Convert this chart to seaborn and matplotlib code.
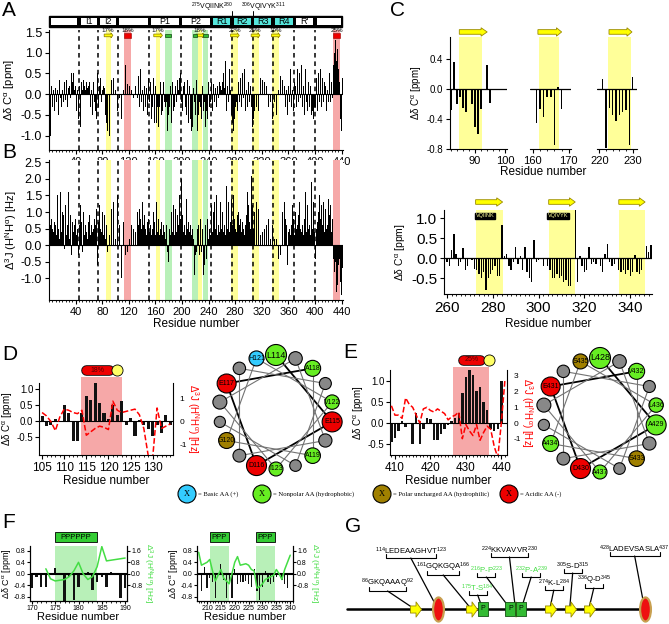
import numpy as np
import matplotlib
matplotlib.use("Agg")
import matplotlib.pyplot as plt
import matplotlib.patches as mpatches
import matplotlib.transforms as mtransforms
from matplotlib.path import Path
from matplotlib.ticker import MultipleLocator
import seaborn as sns

sns.set_style("ticks")
plt.rcParams["font.family"] = ["Liberation Sans", "DejaVu Sans"]
plt.rcParams.update({"mathtext.default": "regular", "axes.edgecolor": "black",
                     "xtick.color": "black", "ytick.color": "black", "text.color": "black",
                     "axes.labelcolor": "black", "axes.linewidth": 0.8,
                     "xtick.major.size": 3, "ytick.major.size": 3,
                     "xtick.minor.size": 1.5, "ytick.minor.size": 1.5})

# ---------------- data ----------------
# panel A: delta-delta C-alpha per residue (1..441)
dc_ppm = [
    -0.9, -1.0, -0.6, 0.2, -0.3, 0.3, 0.1, -0.4, 0.25, 0.15, -0.2, 0.3, 0.1, -0.5, 0.2, 0.35, -0.1, 0.2, -0.3, 0.1,
    0.25, -0.2, 0.3, 0.1, -0.15, 0.35, 0.2, -0.3, 0.15, 0.4, 0.2, -0.1, 0.45, 0.5, 0.3, -0.2, 0.5, 0.1, -0.3, 0.2,
    -0.4, 0.3, 0.1, -0.6, -0.2, 0.2, -0.8, -0.5, 0.3, 0.1, -0.3, 0.35, 0.2, -0.2, 0.1, 0.3, -0.4, 0.15, 0.2, -0.1,
    0.3, -0.3, 0.2, 0.1, -0.5, 0.25, 0.3, -0.2, 0.1, -0.4, -0.6, 0.2, 0.5, -0.3, -0.7, 0.2, 0.4, 0.3, -0.2, 0.1,
    -0.3, 0.2, 0.15, -0.4, -0.5, -0.7, -0.3, -0.9, -0.6, -0.4, -1.0, -0.5, 0.2, 0.35, -0.2, 0.3, 0.4, -0.3, 0.25, 0.1,
    -0.2, 0.3, -0.4, 0.25, 0.5, -0.1, 0.3, 0.2, -0.6, -0.6, 0.3, 0.1, 0.25, 0.8, 0.7, 1.2, 0.6, 0.25, 0.1, 0.5,
    0.2, 0.65, -0.1, 0.1, -0.45, 0.05, -0.1, -0.15, -0.3, 0.2, -0.4, 0.2, -0.1, 0.3, 0.45, -0.3, 0.2, 0.6, -0.2, 0.3,
    0.1, -0.4, 0.5, 0.2, -0.3, 0.3, 0.15, -0.5, 0.2, 0.4, -0.2, 0.55, 0.3, -0.6, 0.2, -0.3, 0.4, -0.5, -0.7, 0.2,
    -0.5, -0.7, -0.3, -0.1, -0.8, -0.3, 0.1, 0.3, -0.5, 0.2, -0.4, 0.3, -0.6, -0.2, -0.3, -0.8, -0.2, -0.9, -0.1, -0.5,
    -0.3, -0.6, 0.2, -0.7, -0.2, 0.3, -0.4, 0.45, -0.3, 0.2, -0.5, -0.2, 0.35, -0.6, 0.1, 0.4, -0.3, 0.5, -0.2, 0.7,
    -0.4, 0.2, -0.6, 0.3, -0.3, 0.1, -0.5, 0.35, -0.2, -0.7, 0.2, -0.4, -0.6, -0.9, -0.3, -0.8, 0.15, -0.9, -0.2, -0.5,
    -0.6, 0.35, -0.9, -0.4, -0.5, -0.2, -0.7, -0.3, -0.6, -0.1, 0.2, -0.4, -0.5, -0.2, -0.8, 0.1, -0.4, -0.6, -0.2, 0.3,
    -0.3, 0.45, -0.2, 0.3, 0.1, -0.4, 0.25, 0.5, -0.2, 0.15, 0.35, -0.3, 0.2, 0.4, -0.1, 0.3, -0.35, 0.2, 0.1, -0.25,
    0.3, 0.5, -0.2, 0.15, 0.8, 0.3, -0.4, 0.2, 0.35, -0.2, 0.6, -0.3, 0.1, -0.5, -0.3, -0.7, -0.9, -0.4, -0.6, -0.3,
    -0.5, -0.2, -0.4, 0.1, 0.3, -0.2, 0.25, 0.4, -0.3, 0.2, 0.5, -0.1, 0.3, 0.6, -0.4, 0.2, 0.1, -0.3, 0.45, 0.3,
    -0.2, 0.5, 0.2, -0.3, -0.5, -0.8, -0.6, -0.9, -0.4, -0.7, -0.5, -0.3, -0.6, -0.2, -0.4, 0.3, -0.2, 0.4, 0.2, -0.3,
    0.35, 0.6, -0.2, 0.3, 0.5, -0.4, 0.2, 0.7, 0.3, -0.3, 0.8, 0.4, -0.2, -0.4, -0.3, -0.6, -0.4, -0.5, -0.2, -0.6,
    -0.3, -0.5, -0.2, -0.4, 0.1, 0.3, -0.3, 0.45, 0.2, -0.2, 0.35, 0.5, -0.4, 0.2, 0.3, -0.3, 0.1, 0.4, -0.5, 0.2,
    0.3, -0.2, 0.6, 0.2, -0.3, 0.1, 0.5, -0.4, 0.3, 0.8, 0.2, -0.3, 0.4, 0.6, -0.2, 0.3, 0.5, -0.1, 0.2, 0.7,
    -0.3, 0.4, 0.2, -0.5, 0.3, 0.6, -0.2, 0.1, -0.4, 0.3, -0.6, -0.3, 0.2, -0.7, -0.5, -0.4, -1.2, -0.6, -0.3, 0.2,
    -0.3, 0.4, 0.2, -0.4, 0.5, 0.3, -0.2, 0.6, 0.2, -0.3, 0.4, 0.1, -0.2, 0.3, 0.7, 0.2, -0.4, 0.3, 0.1, -0.2,
    0.3, 0.5, -0.2, 0.4, 0.3, -0.1, 0.2, 0.7, 1.0, 1.2, 1.3, 0.8, 0.9, 1.1, 0.6, 0.5, 0.3, -0.6, -1.0, -0.9, 0.4,
]
# panel B: delta 3J(HN-HA) per residue (1..441)
dj_hz = [
    0.5, 0.6, 0.3, 0.8, 0.5, 1.0, 0.4, 0.7, 1.2, 0.6, 0.3, 0.9, 1.5, 0.5, 0.8, 0.2, 1.6, 0.7, 0.4, 1.0,
    0.6, 0.9, -0.1, 0.5, 1.2, 0.3, 0.8, 0.6, 1.6, 0.4, 0.2, 0.9, 0.5, -0.3, 0.7, 1.0, 0.4, 0.6, -0.2, 0.8,
    0.3, 1.1, 0.5, -0.3, 0.9, 0.6, 1.2, 0.4, 0.7, -0.2, 0.5, 1.0, 0.3, 0.8, 0.6, 0.4, 1.3, 0.2, 0.7, 0.5,
    0.9, 0.3, 1.4, 0.6, 0.4, 1.0, 0.5, 0.8, 0.3, 0.6, 1.1, 0.4, -0.6, 0.7, 0.3, 1.2, 0.5, 0.8, 0.4, 1.0,
    0.6, 0.3, 0.9, 0.5, 0.2, 0.6, 0.4, -0.2, 0.8, 0.5, 0.3, 0.7, 0.4, 1.1, 0.6, 0.3, 1.3, -0.8, 0.5, 0.2,
    0.7, 0.4, 1.5, 0.3, -0.4, 0.6, 0.9, 0.2, -1.0, 0.5, 0.3, 0.7, 0.4, 0.2, -0.3, 0.1, 0.4, -0.2, 0.3, -0.5,
    0.2, 0.1, 0.3, 0.6, 0.4, 0.9, 0.5, 0.3, 1.2, 0.4, 0.7, 0.5, 1.0, 0.3, 0.6, 1.1, 0.4, 0.8, 0.5, 0.3,
    1.3, 0.6, 0.4, 0.9, 0.5, 1.1, 0.3, 0.7, 0.5, 0.8, 0.4, -0.3, 0.6, 0.3, -0.8, 0.5, 1.0, 0.4, 0.7, 0.3,
    0.5, 1.3, 0.4, 0.2, 0.8, 0.3, 1.2, 0.5, 0.7, 1.4, 0.3, 0.6, 0.9, 0.4, 0.2, -0.3, 0.6, -0.2, 0.3, -0.5,
    0.5, 0.8, 0.3, 1.0, 0.6, 0.4, 1.2, 0.5, 0.3, 1.1, 0.7, 0.4, 0.9, 0.5, 0.6, 1.5, 0.3, 0.8, 2.0, 0.5,
    0.9, 0.4, 1.2, 0.6, 0.3, 0.8, 1.4, 0.5, 1.0, 0.7, 0.4, 1.3, 0.6, 0.3, 1.9, 0.5, 0.2, -0.6, -0.9, -0.3,
    -0.4, -0.2, 0.5, -0.5, 0.6, -0.3, 0.4, 0.8, -0.2, 0.3, 0.5, -0.9, 0.4, -0.6, 0.6, 0.3, -0.4, 0.8, 1.0, 0.2,
    0.5, 0.9, 0.3, 1.2, 0.6, 0.4, 1.0, 0.7, 1.3, 0.5, 0.8, 1.5, 0.3, 1.1, 0.6, 0.4, 0.9, 1.3, 0.5, 0.7,
    1.0, 0.4, 1.6, 0.6, 0.3, 1.2, 1.8, 0.5, 0.9, 1.3, 0.4, 1.0, 0.7, 1.4, 1.8, 0.6, 1.5, 0.3, 0.8, 0.5,
    1.2, 0.4, 0.9, 0.3, 1.0, 0.6, 0.2, 0.8, 0.4, 0.3, 0.7, 0.5, 1.1, 0.3, 0.6, 0.4, 0.9, 1.6, 0.5, 1.2,
    0.7, 1.4, 0.5, 2.1, 0.9, 1.2, 0.5, 2.2, 1.0, 1.7, 0.8, 1.3, 1.5, 0.6, 1.1, 0.4, 0.9, 0.3, 0.5, 1.0,
    0.4, 0.7, 0.3, 0.5, 1.0, 0.3, 0.6, 0.4, 0.2, 0.8, 0.3, 0.5, 0.2, 0.4, 0.9, 0.6, 0.3, 0.5, 0.2, 0.4,
    0.3, 0.2, -0.2, 0.1, -0.4, 0.3, 0.5, -0.3, 0.2, 0.6, 1.0, 0.3, 0.5, 1.3, 0.4, 0.8, 0.6, 0.3, -0.6, 0.4,
    1.5, 0.5, 0.3, 0.9, 0.6, 1.2, 0.4, 0.8, 0.3, 0.7, 1.0, 0.5, 1.4, 0.6, 0.9, 0.3, 1.3, 0.5, 0.8, 0.4,
    0.6, 1.1, 0.3, 0.8, 0.5, 1.6, 0.4, 0.9, 1.2, 0.5, 1.7, 0.6, 0.3, 1.0, 1.9, 0.5, 0.7, 1.3, 0.4, 0.8,
    -0.4, 0.5, 1.3, 0.7, 1.0, 0.4, 1.5, 0.8, 0.5, 1.2, 0.6, 0.9, 1.3, 0.4, 0.7, 1.1, 0.5, 0.8, 0.6, 1.4,
    0.5, 0.9, 1.2, 0.6, 0.4, 0.8, 0.3, -0.4, -0.8, -1.0, -0.5, -1.4, -0.9, -1.2, -0.6, -0.8, -0.4, -1.1, -1.4, -1.5, -0.7,
]
domain_edges = [45, 74, 103, 151, 198, 244, 275, 306, 337, 369, 400]
box_edges = [0, 45, 74, 103, 151, 198, 244, 275, 306, 337, 369, 400, 441]
box_names = ["", "I1", "I2", "", "P1", "P2", "R1", "R2", "R3", "R4", "R'", ""]
beta_sites = [(86, 92, "17%"), (161, 166, "17%"), (224, 230, "18%"), (274, 284, "22%"),
              (305, 315, "25%"), (336, 345, "19%")]
helix_sites = [(114, 123, "18%"), (428, 437, "25%")]
ppii_sites = [(175, 184), (216, 223), (232, 239)]

# panel C
c1_res = [82, 83, 84, 85, 86, 87, 89, 90, 91, 92, 94, 95]
c1_val = [-0.28, 0.37, -0.2, -0.1, -0.25, -0.3, -0.2, -0.5, -0.6, -0.27, 0.33, -0.18]
c2_res = [161, 162, 163, 164, 165, 166, 167, 168]
c2_val = [-0.45, -0.27, -0.37, -0.1, -0.1, -0.75, 0.03, -0.27]
c3_res = [221, 222, 223, 224, 225, 226, 227, 228, 229, 230]
c3_val = [0.14, -0.78, -0.25, -0.35, -0.42, -0.35, -0.3, -0.28, -0.75, 0.17]
c4_start = 259
c4_val = [-0.12, -0.1, -0.2, 0.2, 0.6, 0.1, -0.2, -0.1, 0.25, -0.3, -0.2, 0.0, -0.05, -0.28, -0.3, -0.4,
          -0.5, -0.35, -0.8, -0.5, -0.4, -0.3, -0.2, -0.45, -0.45, 0.83, 0.05, 0.1, -0.2, -0.3, -0.1, 0.27,
          -0.15, 0.05, -0.3, 0.28, -0.35, -0.5, -0.6, 0.45, -0.1, -0.05, 0.0, -0.2, 0.0, -0.2, -0.3, -0.5,
          -0.5, -0.4, -0.5, -0.45, -0.6, -0.55, -0.7, -0.7, 0.0, 1.2, -0.6, 0.05, -0.2, -0.35, -0.3, 0.27,
          -0.15, -0.1, -0.15, 0.0, -0.2, -0.35, 0.1, 0.35, -0.1, -0.2, -0.15, 0.0, -0.3, -0.35, -0.3, -0.4,
          -0.3, -0.45, -0.35, 0.08, -0.35, -0.4, -0.3, 0.0, 0.3, 0.15, 0.33]
c4_strands = [(272.5, 284.3), (304.4, 316.0), (335.0, 346.5)]
c4_tags = ["VQIINK", "VQIVYK"]

# panel D (helix 114-123)
d_start = 105
d_dc = [0.17, -0.15, -0.1, 0.08, 0.0, 0.5, 0.25, -0.6, -0.6, 0.25, 0.8, 0.68, 1.2, 0.57, 0.27,
        0.08, 0.5, 0.2, 0.63, -0.12, 0.1, -0.45, 0.05, -0.12, -0.25, -0.45, -0.1, -0.37, 0.2, -0.1]
d_dj = [0.4, 0.25, 0.0, -0.4, 0.2, 0.55, 0.5, 0.4, 0.35, 0.5, -0.6, -0.45, -0.3, -0.2, -0.25,
        -0.35, 0.9, 0.5, 0.4, 0.45, 0.5, 0.55, 0.3, -0.3, -1.5, -1.6, 0.6, -0.3, -0.2, -0.1]
d_wheel = ["L114", "E115", "D116", "E117", "A118", "A119", "G120", "H121", "V122", "I123"]
d_wheel_cls = ["np", "ac", "ac", "ac", "np", "np", "po", "ba", "np", "np"]

# panel E (helix 428-437)
e_start = 409
e_dc = [-0.45, -0.35, -0.2, 0.05, -0.1, 0.0, -0.5, 0.25, -0.5, -0.15, 0.12, 0.1, -0.4, -0.4, -0.25, -0.15,
        -0.05, 0.05, 0.12, 0.25, 0.72, 1.1, 1.25, 1.15, 0.75, 0.85, 0.5, 0.3, -0.15, -0.2, -0.15, 1.0]
e_dj = [1.1, 0.5, 0.5, 0.3, 1.6, 1.2, 1.0, 0.5, 0.0, 0.9, 1.0, 0.8, 0.7, 0.9, 0.75, 0.6, 0.2,
        0.4, 0.5, 0.7, -1.0, -0.1, -0.5, -0.8, -0.1, -1.1, -0.6, -0.2, -0.4, -1.5, -2.2, 0.0, 2.7]
e_wheel = ["L428", "A429", "D430", "E431", "V432", "S433", "A434", "S435", "L436", "A437"]
e_wheel_cls = ["np", "np", "ac", "ac", "np", "po", "np", "po", "np", "np"]

# panel F (PPII)
f1_start = 170
f1_dc = [-0.5, -0.1, -0.45, -0.45, 0.0, 0.2, -0.05, -1.0, -0.1, -0.9, -0.45, 0.0, 0.05, -0.55,
         -0.3, -0.1, -0.45, 0.05, 0.0, -0.85, -0.5]
f1_jstart = 173
f1_dj = [0.35, -0.35, -0.5, -0.45, -0.4, -0.2, 0.2, 0.8, 0.0, -0.4, -0.2, 0.5, 1.9, 0.9, 0.95, 1.0, 1.05, 1.1]
f1_ppii = [(175, 184)]
f2_start = 208
f2_dc = [-0.6, 0.25, -0.5, -0.15, -0.3, -0.85, 0.0, 0.35, -0.2, -0.85, -0.3, -0.85, 0.15, -0.35, -0.3, -0.3,
         -0.25, -0.35, -0.45, 0.15, -0.6, -0.9, -0.45, 0.1, -0.3, -0.35, -0.3, -0.1, 0.0, -0.2, -0.35, -0.5]
f2_jstart = 207
f2_dj = [1.5, 0.6, 0.7, 0.8, 1.0, 0.2, -0.5, -0.1, 0.3, -0.3, -0.5, -0.7, 0.0, 0.8, 1.2, 0.6, 0.65,
         0.7, 0.6, 0.3, 0.2, -1.0, -0.9, -0.7, -0.4, -0.3, -0.2, -0.1, 0.3, 0.0, -0.4, 0.3, 0.8, 1.3]
f2_ppii = [(211, 218), (227.5, 234.5)]

# panel G (schematic)
g_labels = [("GKQAAAQ", 86, 92, "k"), ("LEDEAAGHVT", 114, 123, "k"), ("GQKGQA", 161, 166, "k"),
            ("T-S", 175, 184, "g"), ("P-P", 216, 223, "g"), ("KKVAVVR", 224, 230, "k"),
            ("P-A", 232, 239, "g"), ("K-L", 274, 284, "k"), ("S-D", 305, 315, "k"),
            ("Q-D", 336, 345, "k"), ("LADEVSASLA", 428, 437, "k")]
g_offsets = [(-27, 18), (-27, 51), (-28, 34), (-5, 14), (-24, 32), (-6, 52),
             (10, 32), (4, 19), (3, 36), (5, 21), (-10, 53)]

# ---------------- style ----------------
YEL = "#FFFF99"
PINK = "#F6A8A8"
LGRN = "#B8F0B8"
CLS_COL = {"ba": "#33CCFF", "np": "#66EE22", "po": "#A08000", "ac": "#EE0000"}
GREEN_TXT = "#44DD44"

W, H = 669, 624
fig = plt.figure(figsize=(W / 100, H / 100), dpi=100)


def add_ax(x0, y0, x1, y1):
    return fig.add_axes([x0 / W, 1 - y1 / H, (x1 - x0) / W, (y1 - y0) / H])


def bars(ax, x, y, width=0.8, color="black"):
    sns.barplot(x=list(x), y=list(y), native_scale=True, orient="x", width=width, color=color,
                saturation=1, errorbar=None, linewidth=0, ax=ax, zorder=3)


def strand(ax, x0, x1, y, h):
    p = mpatches.FancyArrow(x0, y, x1 - x0, 0, width=h * 0.55, head_width=h,
                            head_length=(x1 - x0) * 0.22, length_includes_head=True,
                            transform=ax.get_xaxis_transform(), fc="#FFFF00", ec="#9A8A00",
                            lw=0.6, clip_on=False, zorder=6)
    ax.add_patch(p)


def letter(x, y, s):
    fig.text(x / W, 1 - y / H, s, fontsize=15, ha="left", va="center")


YL_PPM = "Δδ C$^{α}$ [ppm]"
YL_J = "Δ$^{3}$J (H$^{N}$H$^{α}$) [Hz]"

# ---------------- A & B ----------------
res_ab = np.arange(1, len(dc_ppm) + 1)
axA = add_ax(49, 30, 343, 150)
axB = add_ax(49, 160, 343, 300)
for ax, vals in ((axA, dc_ppm), (axB, dj_hz)):
    for a, b, _ in beta_sites:
        ax.axvspan(a - 0.5, b + 0.5, color=YEL, lw=0, zorder=0)
    for a, b, _ in helix_sites:
        ax.axvspan(a - 0.5, b + 0.5, color=PINK, lw=0, zorder=0)
    for a, b in ppii_sites:
        ax.axvspan(a - 0.5, b + 0.5, color=LGRN, lw=0, zorder=0)
    bars(ax, res_ab, vals, width=0.9)
    for e in domain_edges:
        ax.axvline(e, color="k", ls=(0, (3, 2.5)), lw=1.1, zorder=4)
    ax.axhline(0, color="k", lw=0.8, zorder=4)
    ax.set_xlim(0, 442)
    ax.set_xticks(np.arange(40, 441, 40))
    ax.xaxis.set_minor_locator(MultipleLocator(5))
    ax.tick_params(labelsize=8, pad=2)
    ax.set_xlabel("")
    sns.despine(ax=ax)

axA.set_ylim(-1.35, 1.55)
axA.set_yticks([-1.0, -0.5, 0.0, 0.5, 1.0, 1.5])
axA.set_yticklabels(["-1.0", "-0.5", "0.0", "0.5", "1.0", "1.5"], fontsize=9)
axA.set_ylabel(YL_PPM, fontsize=8, labelpad=3)
axB.set_ylim(-1.65, 2.57)
axB.set_yticks(np.arange(-1.0, 2.51, 0.5))
axB.set_yticklabels(["%.1f" % v for v in np.arange(-1.0, 2.51, 0.5)], fontsize=9)
axB.set_ylabel(YL_J, fontsize=8, labelpad=1)
axB.set_xlabel("Residue number", fontsize=8.5, labelpad=1)

bt = axA.get_xaxis_transform()
axA.add_patch(mpatches.Rectangle((0, 1.025), 441, 0.095, transform=bt, fc="k", ec="k",
                                 clip_on=False, zorder=5))
for (a, b), name in zip(zip(box_edges[:-1], box_edges[1:]), box_names):
    fc = "#55E6DC" if name in ("R1", "R2", "R3", "R4") else "white"
    axA.add_patch(mpatches.Rectangle((a + 2.5, 1.042), b - a - 5, 0.06, transform=bt, fc=fc,
                                     ec="none", clip_on=False, zorder=6))
    axA.text((a + b) / 2, 1.072, name, transform=bt, ha="center", va="center", fontsize=6.5, zorder=7)
axA.text(277, 1.19, "$^{275}$VQIINK$^{280}$", transform=bt, ha="right", va="center", fontsize=5)
axA.text(289, 1.19, "$^{306}$VQIVYK$^{311}$", transform=bt, ha="left", va="center", fontsize=5)
for e in (275, 306):
    axA.plot([e, e], [1.117, 1.16], transform=bt, color="k", lw=0.7, clip_on=False)
for a, b, lab in beta_sites:
    m = (a + b) / 2
    axA.text(m, 1.0, lab, transform=bt, ha="center", va="center", fontsize=4.5, clip_on=False)
    strand(axA, m - 6, m + 7, 0.955, 0.04)
for a, b, lab in helix_sites:
    m = (a + b) / 2
    axA.text(m, 1.0, lab, transform=bt, ha="center", va="center", fontsize=4.5, clip_on=False)
    axA.add_patch(mpatches.Rectangle((a - 1, 0.937), b - a + 2, 0.035, transform=bt, fc="#EE0000",
                                     ec="#990000", lw=0.4, clip_on=False, zorder=6))
for a, b in ppii_sites:
    axA.add_patch(mpatches.Rectangle((a, 0.94), b - a, 0.03, transform=bt, fc="#33BB33",
                                     ec="#114411", lw=0.5, clip_on=False, zorder=6))

# ---------------- C ----------------
c_axes = [add_ax(450, 37, 507, 149), add_ax(530, 37, 571, 149), add_ax(597, 37, 637, 149)]
c_sets = [(c1_res, c1_val, (81.7, 100.7), (84.8, 92.5), (84.8, 94.1), [90, 100]),
          (c2_res, c2_val, (159.2, 170.6), (161.7, 167.2), (161.4, 168.0), [160, 170]),
          (c3_res, c3_val, (219.3, 231.3), (222.5, 229.6), (222.9, 229.8), [220, 230])]
for i, (ax, (r, v, xl, sh, ar, xt)) in enumerate(zip(c_axes, c_sets)):
    ax.axvspan(*sh, color=YEL, lw=0, zorder=0)
    bars(ax, r, v, width=0.45)
    ax.axhline(0, color="k", lw=0.9, zorder=4)
    ax.set_xlim(*xl)
    ax.set_ylim(-0.8, 0.7)
    ax.set_xticks(xt)
    ax.xaxis.set_minor_locator(MultipleLocator(2))
    ax.tick_params(labelsize=8, pad=2)
    ax.set_xlabel("")
    strand(ax, ar[0], ar[1], 1.045, 0.075)
    if i == 0:
        ax.set_yticks([-0.8, -0.4, 0.0, 0.4])
        ax.set_yticklabels(["-0.8", "-0.4", "0.0", "0.4"], fontsize=7)
        ax.set_ylabel(YL_PPM, fontsize=7, labelpad=2)
        sns.despine(ax=ax)
    else:
        ax.set_yticks([])
        ax.set_ylabel("")
        sns.despine(ax=ax, left=True)
fig.text(543 / W, 1 - 172 / H, "Residue number", fontsize=8.5, ha="center", va="center")

axC4 = add_ax(444, 210, 652, 294)
for a, b in c4_strands:
    axC4.axvspan(a, b, color=YEL, lw=0, zorder=0)
    strand(axC4, a, b, 1.095, 0.1)
bars(axC4, np.arange(c4_start, c4_start + len(c4_val)), c4_val, width=0.6)
axC4.axhline(0, color="k", lw=0.9, zorder=4)
axC4.set_xlim(258.7, 349.5)
axC4.set_ylim(-0.9, 1.2)
axC4.set_xticks([260, 280, 300, 320, 340])
axC4.xaxis.set_minor_locator(MultipleLocator(2))
axC4.set_yticks([-0.5, 0.0, 0.5, 1.0])
axC4.set_yticklabels(["-0.5", "0.0", "0.5", "1.0"])
axC4.tick_params(labelsize=11, pad=2)
axC4.set_xlabel("Residue number", fontsize=8.5, labelpad=2)
axC4.set_ylabel(YL_PPM, fontsize=7.5, labelpad=2)
sns.despine(ax=axC4)
bt4 = axC4.get_xaxis_transform()
for (a, b), tag in zip(c4_strands[:2], c4_tags):
    axC4.text(a + 4.2, 0.93, tag, transform=bt4, ha="center", va="center", fontsize=4,
              color="#FFFF99", bbox=dict(boxstyle="square,pad=0.15", fc="k", ec="k"), zorder=7)


# ---------------- D & E ----------------
def helix_panel(ax, start, dc, dj, xl, yl, yl2, span, span_top, pill, pct, xt, yt, yt2):
    ax.set_xlim(*xl)
    ax.set_ylim(*yl)
    t = ax.get_xaxis_transform()
    ax.add_patch(mpatches.Rectangle((span[0], 0), span[1] - span[0], span_top, transform=t,
                                    fc=PINK, ec="none", clip_on=False, zorder=0))
    bars(ax, np.arange(start, start + len(dc)), dc, width=0.7, color="#111111")
    ax.axhline(0, color="k", lw=0.8, zorder=4)
    ax.set_xlim(*xl)
    ax.set_xticks(xt)
    ax.xaxis.set_minor_locator(MultipleLocator(1))
    ax.set_yticks(yt)
    ax.set_yticklabels(["%.1f" % v for v in yt])
    ax.tick_params(axis="x", labelsize=8.5, pad=2)
    ax.tick_params(axis="y", labelsize=7, pad=1)
    ax.set_xlabel("Residue number", fontsize=8.5, labelpad=1)
    ax.set_ylabel(YL_PPM, fontsize=7, labelpad=1)
    sns.despine(ax=ax)
    ax2 = ax.twinx()
    sns.lineplot(x=np.arange(start, start + len(dj)), y=dj, ax=ax2, color="red", lw=1.1,
                 linestyle="--")
    ax2.set_ylim(*yl2)
    ax2.set_yticks(yt2)
    ax2.set_yticklabels(["%d" % v for v in yt2])
    ax2.tick_params(labelsize=6, pad=1.5)
    ax2.set_ylabel(YL_J, fontsize=7, color="red", rotation=270, labelpad=10)
    sns.despine(ax=ax2, left=True, right=False, bottom=True)
    p0, p1, pc, py = pill
    for lw, c in ((7.6, "k"), (6.4, "#EE0000")):
        ax.plot([p0, p1], [py, py], transform=t, color=c, lw=lw, solid_capstyle="round",
                clip_on=False, zorder=6)
    ax.plot([pc], [py], transform=t, marker="o", ms=8, mfc="#FFFF66", mec="k", mew=0.6,
            clip_on=False, zorder=7)
    ax.text((p0 + p1) / 2, py, pct, transform=t, ha="center", va="center", fontsize=5,
            color="#550000", zorder=8)


axD = add_ax(39, 383, 173, 455)
helix_panel(axD, d_start, d_dc, d_dj, (104.3, 134.6), (-1.05, 1.2), (-1.47, 1.7),
            (113.8, 123.1), 1.083, (115.0, 120.1, 121.9, 1.18), "18%",
            [105, 110, 115, 120, 125, 130], [-0.5, 0.0, 0.5, 1.0], [-1, 0, 1])
axE = add_ax(390, 370, 507, 455)
helix_panel(axE, e_start, e_dc, e_dj, (408.6, 441.6), (-0.76, 1.26), (-2.04, 3.38),
            (426.5, 436.5), 1.035, (429.2, 434.0, 436.5, 1.12), "25%",
            [410, 420, 430, 440], [-0.5, 0.0, 0.5, 1.0], [-1, 0, 1, 2, 3])

wheel_r = [10.5, 10, 10, 9.5, 8, 7.8, 8, 7.5, 7.2, 7, 7, 6.8, 6.6, 6.4, 6.2, 6, 5.8, 5.6]


def wheel(cx, cy, names, cls):
    ax = add_ax(cx - 75, cy - 75, cx + 75, cy + 75)
    ax.set_xlim(-75, 75)
    ax.set_ylim(-75, 75)
    ax.axis("off")
    n = len(wheel_r)
    ang = np.deg2rad(90 - 100 * np.arange(n))
    xs, ys = 57 * np.cos(ang), 57 * np.sin(ang)
    for i in range(n - 1):
        dark = i < 4
        ax.plot(xs[i:i + 2], ys[i:i + 2], color="k" if dark else "0.45",
                lw=1.3 if dark else 0.8, zorder=1)
    for i in range(n):
        fc = CLS_COL[cls[i]] if i < len(names) else "#888888"
        ax.add_patch(mpatches.Circle((xs[i], ys[i]), wheel_r[i], fc=fc, ec="k", lw=0.8, zorder=2))
        if i < len(names):
            ax.text(xs[i], ys[i], names[i], ha="center", va="center",
                    fontsize=6.5 if i == 0 else 5, zorder=3)


wheel(276, 412, d_wheel, d_wheel_cls)
wheel(600, 415, e_wheel, e_wheel_cls)

# legend row
axL = add_ax(170, 482, 669, 506)
axL.set_xlim(170, 669)
axL.set_ylim(506, 482)
axL.axis("off")
leg_items = [("ba", "= Basic AA (+)"), ("np", "= Nonpolar AA (hydrophobic)"),
             ("po", "= Polar uncharged AA (hydrophilic)"), ("ac", "= Acidic AA (-)")]
for xc, (k, lab) in zip([187, 262, 382, 509], leg_items):
    axL.add_patch(mpatches.Circle((xc, 494), 9, fc=CLS_COL[k], ec="k", lw=0.8))
    axL.text(xc, 494, "X", ha="center", va="center", fontsize=6, family="Liberation Serif")
    axL.text(xc + 11, 494, lab, ha="left", va="center", fontsize=4.8, family="Liberation Serif")


# ---------------- F ----------------
def ppii_panel(ax, start, dc, jstart, dj, xl, spans, label, xt):
    ax.set_xlim(*xl)
    ax.set_ylim(-0.95, 0.97)
    t = ax.get_xaxis_transform()
    for a, b in spans:
        ax.axvspan(a, b, color=LGRN, lw=0, zorder=0)
        ax.add_patch(mpatches.Rectangle((a, 1.07), b - a, 0.18, transform=t, fc="#33CC33",
                                        ec="k", lw=0.6, clip_on=False, zorder=6))
        ax.text((a + b) / 2, 1.16, label, transform=t, ha="center", va="center", fontsize=5.5, zorder=7)
    bars(ax, np.arange(start, start + len(dc)), dc, width=0.45, color="#111111")
    ax.axhline(0, color="k", lw=1.5, zorder=4)
    ax.set_xlim(*xl)
    ax.set_xticks(xt)
    ax.xaxis.set_minor_locator(MultipleLocator(1))
    ax.set_yticks([-0.8, -0.4, 0.0, 0.4, 0.8])
    ax.set_yticklabels(["-0.8", "-0.4", "0.0", "0.4", "0.8"])
    ax.tick_params(labelsize=5, pad=1, length=2)
    ax.set_xlabel("Residue number", fontsize=8, labelpad=0)
    ax.set_ylabel(YL_PPM, fontsize=6.5, labelpad=0.5)
    ax2 = ax.twinx()
    sns.lineplot(x=np.arange(jstart, jstart + len(dj)), y=dj, ax=ax2, color=GREEN_TXT, lw=1.1)
    ax2.set_ylim(-1.9, 1.94)
    ax2.set_yticks([-0.8, 0.0, 0.8, 1.6])
    ax2.set_yticklabels(["-0.8", "0.0", "0.8", "1.6"])
    ax2.tick_params(labelsize=5, pad=1, length=2)
    ax2.set_ylabel(YL_J, fontsize=6, color=GREEN_TXT, rotation=270, labelpad=8)
    ax.spines["top"].set_visible(False)
    ax2.spines["top"].set_visible(False)


axF1 = add_ax(30, 546, 127, 601)
ppii_panel(axF1, f1_start, f1_dc, f1_jstart, f1_dj, (169.6, 190.4), f1_ppii, "PPPPPP",
           [170, 175, 180, 185, 190])
axF2 = add_ax(197, 546, 293, 601)
ppii_panel(axF2, f2_start, f2_dc, f2_jstart, f2_dj, (206.4, 241.0), f2_ppii, "PPP",
           [210, 215, 220, 225, 230, 235, 240])

# ---------------- G ----------------
axG = add_ax(340, 520, 660, 624)
axG.set_xscale("function", functions=(lambda r: np.power(np.clip(r, 0, None), 0.8),
                                      lambda u: np.power(np.clip(u, 0, None), 1.25)))
axG.set_xlim(10.2, 458.5)
axG.set_ylim(-15, 89)
axG.axis("off")
axG.plot([16, 438], [0, 0], color="k", lw=1.8, zorder=1)

arrow_path = Path([(-0.5, -0.35), (0.05, -0.35), (0.05, -0.75), (0.6, 0), (0.05, 0.75),
                   (0.05, 0.35), (-0.5, 0.35), (-0.5, -0.35)], closed=True)
ell_path = Path.unit_circle().transformed(mtransforms.Affine2D().scale(0.45, 1.0))
box_path = Path([(-0.35, -0.5), (0.35, -0.5), (0.35, 0.5), (-0.35, 0.5), (-0.35, -0.5)], closed=True)


def anchor(x, y):
    return mtransforms.Affine2D() + mtransforms.ScaledTranslation(x, y, axG.transData)


for (name, a, b, c), (dx, dy) in zip(g_labels, g_offsets):
    m = (a + b) / 2
    tr = anchor(m, 0)
    col = GREEN_TXT if c == "g" else "k"
    w = len(name) * 4.6 + 4
    axG.text(dx, dy + 1, "$^{%d}$%s$^{%d}$" % (a, name, b), transform=tr, ha="center",
             va="bottom", fontsize=5.6, color=col, clip_on=False)
    axG.plot([dx - w / 2, dx - w / 2, dx + w / 2, dx + w / 2], [dy + 4, dy, dy, dy + 4],
             transform=tr, color="k", lw=0.8, clip_on=False)
    axG.plot([dx, 0], [dy, 0], transform=tr, color="k", lw=0.9, clip_on=False, zorder=2)

axG.scatter([(a + b) / 2 for a, b, _ in beta_sites], [0] * len(beta_sites), marker=arrow_path,
            s=120, c="#FFFF00", edgecolors="#9A8A00", linewidths=0.6, zorder=5)
axG.scatter([(a + b) / 2 for a, b, _ in helix_sites], [0] * len(helix_sites), marker=ell_path,
            s=300, c="#EE1111", edgecolors="#C8A050", linewidths=1.6, zorder=5)
pm = [(a + b) / 2 for a, b in ppii_sites]
axG.scatter(pm, [0] * len(pm), marker=box_path, s=100, c="#33BB33", edgecolors="#145214",
            linewidths=0.6, zorder=5)
for x in pm:
    axG.text(x, 0, "P", ha="center", va="center", fontsize=5, zorder=6)

# panel letters
letter(2, 11, "A")
letter(2, 152, "B")
letter(390, 11, "C")
letter(2, 355, "D")
letter(343, 353, "E")
letter(2, 522, "F")
letter(345, 527, "G")

fig.savefig("out.png", dpi=100)
